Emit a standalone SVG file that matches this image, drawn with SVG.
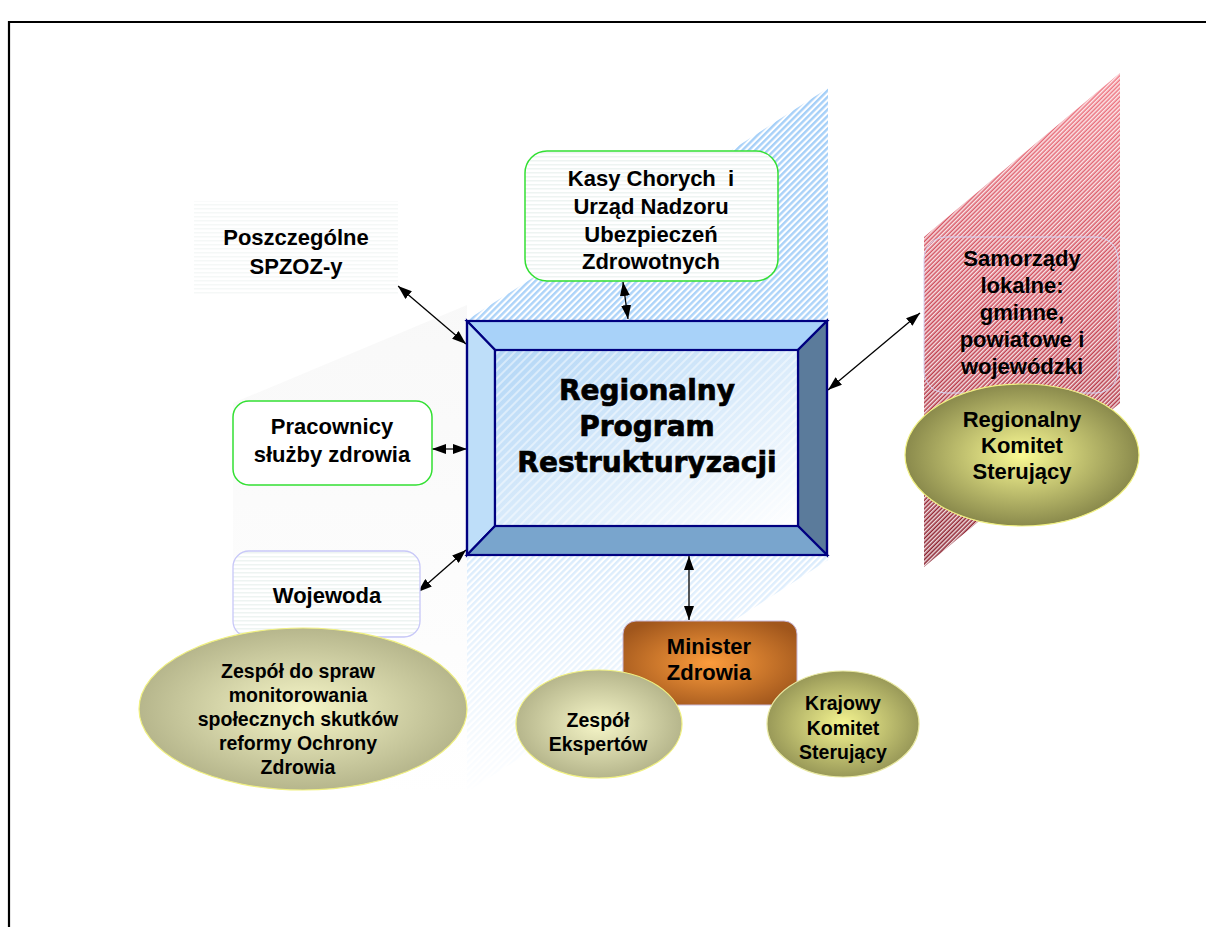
<svg xmlns="http://www.w3.org/2000/svg" width="1206" height="927" viewBox="0 0 1206 927">
<style>
.t{font-family:"Liberation Sans",Arial,sans-serif;font-weight:bold;font-size:22px;fill:#000;text-anchor:middle}
.s{font-size:19.5px}
.big{font-family:"DejaVu Sans","Liberation Sans",sans-serif;font-weight:bold;font-size:28px;fill:#000;stroke:#000;stroke-width:0.7;text-anchor:middle}
.conn{stroke:#000;stroke-width:1.3;fill:none;marker-start:url(#ah);marker-end:url(#ah)}
.bev{stroke:#000080;stroke-width:2.2;stroke-linejoin:miter}
</style>
<defs>
<marker id="ah" viewBox="0 0 14 10" refX="14" refY="5" markerWidth="14" markerHeight="10" markerUnits="userSpaceOnUse" orient="auto-start-reverse">
<path d="M0,0 L14,5 L0,10 z" fill="#000"/>
</marker>
<pattern id="blueHatch" patternUnits="userSpaceOnUse" width="4.5" height="4.5" patternTransform="rotate(-45)">
<rect width="4.5" height="4.5" fill="#fff"/>
<rect width="4.5" height="2.4" fill="#a4cff8"/>
</pattern>
<pattern id="whiteHatch" patternUnits="userSpaceOnUse" width="3" height="3" patternTransform="rotate(-45)">
<rect width="3" height="1.5" fill="#fff"/>
</pattern>
<pattern id="innerHatch" patternUnits="userSpaceOnUse" width="6" height="6" patternTransform="rotate(-45)">
<rect width="6" height="2" fill="#fff" fill-opacity="0.45"/>
</pattern>
<pattern id="hStripe" patternUnits="userSpaceOnUse" width="4" height="4">
<rect width="4" height="4" fill="#fff"/>
<rect width="4" height="1.5" fill="#eef4f2"/>
</pattern>
<linearGradient id="blueFade" gradientUnits="userSpaceOnUse" x1="0" y1="88" x2="0" y2="800">
<stop offset="0" stop-color="#fff"/>
<stop offset="0.33" stop-color="#fff" stop-opacity="0.9"/>
<stop offset="0.7" stop-color="#fff" stop-opacity="0.35"/>
<stop offset="1" stop-color="#fff" stop-opacity="0"/>
</linearGradient>
<mask id="blueMask" maskUnits="userSpaceOnUse" x="0" y="0" width="1206" height="927">
<rect x="0" y="0" width="1206" height="927" fill="url(#blueFade)"/>
</mask>
<linearGradient id="grayFade" gradientUnits="userSpaceOnUse" x1="0" y1="300" x2="0" y2="800">
<stop offset="0" stop-color="#ececec"/>
<stop offset="1" stop-color="#ffffff"/>
</linearGradient>
<linearGradient id="redGrad" gradientUnits="userSpaceOnUse" x1="0" y1="73" x2="0" y2="578">
<stop offset="0" stop-color="#f07884"/>
<stop offset="0.5" stop-color="#c84454"/>
<stop offset="1" stop-color="#841c2a"/>
</linearGradient>
<linearGradient id="innerGrad" x1="0" y1="0" x2="1" y2="1">
<stop offset="0" stop-color="#b2d6f6"/>
<stop offset="1" stop-color="#ffffff"/>
</linearGradient>
<radialGradient id="oliveDark" cx="0.5" cy="0.5" r="0.5">
<stop offset="0" stop-color="#fafa94"/>
<stop offset="1" stop-color="#8a8a4c"/>
</radialGradient>
<radialGradient id="olivePale" cx="0.5" cy="0.5" r="0.5">
<stop offset="0" stop-color="#f6f6c8"/>
<stop offset="1" stop-color="#b6b68c"/>
</radialGradient>
<radialGradient id="oliveMid" cx="0.5" cy="0.5" r="0.5">
<stop offset="0" stop-color="#f4f490"/>
<stop offset="1" stop-color="#999958"/>
</radialGradient>
<radialGradient id="orange" cx="0.5" cy="0.5" r="0.6">
<stop offset="0" stop-color="#fc9c3c"/>
<stop offset="1" stop-color="#a0561c"/>
</radialGradient>
</defs>

<rect width="1206" height="927" fill="#fff"/>
<g id="frame">
<path d="M9,927 V22 H1206" fill="none" stroke="#000" stroke-width="2.2"/>
</g>

<g id="backgrounds">
<polygon points="233,403 467,305 467,790 233,790" fill="url(#grayFade)" opacity="0.35"/>
<polygon points="467,320 828,88 828,560 467,792" fill="url(#blueHatch)" mask="url(#blueMask)"/>
<polygon points="924,237 1120,73 1120,403 924,567" fill="url(#redGrad)"/>
<polygon points="924,237 1120,73 1120,403 924,567" fill="url(#whiteHatch)" fill-opacity="0.85"/>
</g>

<g id="connectors">
<line class="conn" x1="398" y1="286" x2="466" y2="344"/>
<line class="conn" x1="623" y1="282" x2="628" y2="319"/>
<line x1="432" y1="449" x2="467" y2="449" stroke="#666" stroke-width="2" marker-start="url(#ah)" marker-end="url(#ah)"/>
<line class="conn" x1="418" y1="592" x2="466" y2="550"/>
<line class="conn" x1="828" y1="390" x2="920" y2="313"/>
<line class="conn" x1="689" y1="556" x2="689" y2="620"/>
</g>

<g id="n-central">
<polygon class="bev" points="467,321 827,321 798,350 495,350" fill="#a8d2f9"/>
<polygon class="bev" points="467,321 495,350 495,526 467,555" fill="#bedef9"/>
<polygon class="bev" points="827,321 827,555 798,526 798,350" fill="#5b7b9b"/>
<polygon class="bev" points="467,555 827,555 798,526 495,526" fill="#79a5cd"/>
<rect x="495" y="350" width="303" height="176" fill="url(#innerGrad)"/>
<rect x="495" y="350" width="303" height="176" fill="url(#innerHatch)" stroke="#000080" stroke-width="2.2"/>
<rect x="467" y="321" width="360" height="234" fill="none" stroke="#000080" stroke-width="2.2"/>
<text class="big" x="647" y="400">Regionalny</text>
<text class="big" x="647" y="436">Program</text>
<text class="big" x="647" y="472">Restrukturyzacji</text>
</g>

<g id="n-kasy">
<rect x="525" y="151" width="253" height="130" rx="22" fill="url(#hStripe)" stroke="#33e033" stroke-width="1.5"/>
<text class="t" x="651" y="186" style="white-space:pre">Kasy Chorych  i</text>
<text class="t" x="651" y="214">Urząd Nadzoru</text>
<text class="t" x="651" y="242">Ubezpieczeń</text>
<text class="t" x="651" y="269">Zdrowotnych</text>
</g>

<g id="n-spzoz">
<rect x="194" y="201" width="204" height="94" fill="url(#hStripe)" opacity="0.6"/>
<text class="t" x="296" y="245">Poszczególne</text>
<text class="t" x="296" y="274">SPZOZ-y</text>
</g>

<g id="n-pracownicy">
<rect x="233" y="401" width="199" height="84" rx="16" fill="#fff" stroke="#33e033" stroke-width="1.5"/>
<text class="t" x="332" y="434">Pracownicy</text>
<text class="t" x="332" y="462">służby zdrowia</text>
</g>

<g id="n-wojewoda">
<rect x="233" y="551" width="187" height="86" rx="16" fill="url(#hStripe)" stroke="#c8c8f8" stroke-width="1.3"/>
<text class="t" x="327" y="603">Wojewoda</text>
</g>

<g id="n-zespol-monit">
<ellipse cx="303" cy="709" rx="164" ry="81" fill="url(#olivePale)" stroke="#f0f080" stroke-width="1.2"/>
<text class="t s" x="298" y="678">Zespół do spraw</text>
<text class="t s" x="298" y="702">monitorowania</text>
<text class="t s" x="298" y="726">społecznych skutków</text>
<text class="t s" x="298" y="750">reformy Ochrony</text>
<text class="t s" x="298" y="774">Zdrowia</text>
</g>

<g id="n-samorzady">
<rect x="924" y="237" width="194" height="156" rx="22" fill="none" stroke="#d4d4f4" stroke-width="1"/>
<text class="t" x="1022" y="266">Samorządy</text>
<text class="t" x="1022" y="293">lokalne:</text>
<text class="t" x="1022" y="320">gminne,</text>
<text class="t" x="1022" y="347">powiatowe i</text>
<text class="t" x="1022" y="374">wojewódzki</text>
</g>

<g id="n-regkomitet">
<ellipse cx="1022" cy="455" rx="117" ry="71" fill="url(#oliveDark)" stroke="#f0f080" stroke-width="1.2"/>
<text class="t" x="1022" y="427">Regionalny</text>
<text class="t" x="1022" y="453">Komitet</text>
<text class="t" x="1022" y="479">Sterujący</text>
</g>

<g id="n-minister">
<rect x="623" y="621" width="174" height="84" rx="13" fill="url(#orange)" stroke="#c8b8d8" stroke-width="1"/>
<text class="t" x="709" y="654">Minister</text>
<text class="t" x="709" y="680">Zdrowia</text>
</g>

<g id="n-eksperci">
<ellipse cx="599" cy="724" rx="83" ry="54" fill="url(#olivePale)" stroke="#f0f080" stroke-width="1.2"/>
<text class="t s" x="598" y="727">Zespół</text>
<text class="t s" x="598" y="751">Ekspertów</text>
</g>

<g id="n-krajowy">
<ellipse cx="843" cy="724" rx="76" ry="53" fill="url(#oliveMid)" stroke="#e8e8a0" stroke-width="1.2"/>
<text class="t s" x="843" y="710">Krajowy</text>
<text class="t s" x="843" y="735">Komitet</text>
<text class="t s" x="843" y="759">Sterujący</text>
</g>
</svg>
